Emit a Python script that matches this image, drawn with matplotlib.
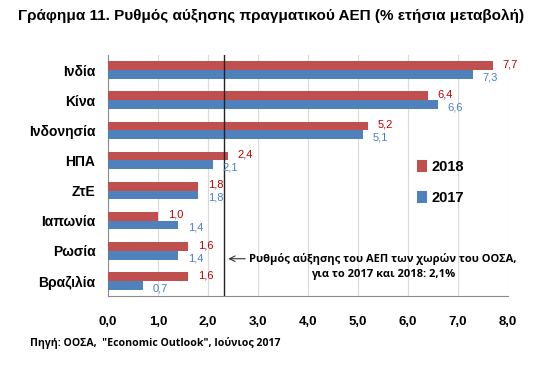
import matplotlib.pyplot as plt
import numpy as np

# data
countries = ["Ινδία", "Κίνα", "Ινδονησία", "ΗΠΑ", "ΖτΕ", "Ιαπωνία", "Ρωσία", "Βραζιλία"]
g2018 = [7.7, 6.4, 5.2, 2.4, 1.8, 1.0, 1.6, 1.6]
g2017 = [7.3, 6.6, 5.1, 2.1, 1.8, 1.4, 1.4, 0.7]
oecd_line = 2.33   # where the reference line is drawn
xticks = [0, 1, 2, 3, 4, 5, 6, 7, 8]

red = "#C0504D"
blue = "#4F81BD"
red_txt = "#C00000"
blue_txt = "#4A7EC8"

plt.rcParams['font.family'] = ['Liberation Sans', 'DejaVu Sans']

fig = plt.figure(figsize=(5.41, 3.66), dpi=100)
ax = fig.add_axes([0.1996, 0.191, 0.7394, 0.6587])

y = np.arange(len(countries))
h = 0.29
ax.barh(y - h / 2, g2018, height=h, color=red, label="2018", zorder=3)
ax.barh(y + h / 2, g2017, height=h, color=blue, label="2017", zorder=3)

def fmt(v):
    return f"{v:.1f}".replace(".", ",")

for i in range(len(countries)):
    ax.annotate(fmt(g2018[i]), (g2018[i], y[i] - h / 2), xytext=(7, 1), textcoords="offset points",
                ha="left", va="center", color=red_txt, fontsize=8, zorder=5)
    ax.annotate(fmt(g2017[i]), (g2017[i], y[i] + h / 2), xytext=(7, -2), textcoords="offset points",
                ha="left", va="center", color=blue_txt, fontsize=8, zorder=5)

ax.axvline(oecd_line, color="#222222", lw=1, zorder=4)

ax.set_xlim(0, 8)
ax.set_ylim(len(countries) - 0.5, -0.5)
ax.set_xticks(xticks)
ax.set_xticklabels([fmt(v) for v in xticks], fontsize=9.5, fontweight="bold")
ax.set_yticks(y)
ax.set_yticklabels(countries, fontsize=10, fontweight="bold")
ax.tick_params(length=0, pad=9)
ax.tick_params(axis="x", pad=14)
ax.grid(axis="x", color="#D9D9D9", lw=0.8, zorder=0)
for s in ["top", "right"]:
    ax.spines[s].set_visible(False)
for s in ["left", "bottom"]:
    ax.spines[s].set_color("#8C8C8C")

leg = ax.legend(loc="upper left", bbox_to_anchor=(0.74, 0.62), frameon=False,
                prop={"weight": "bold", "size": 10.5}, handlelength=0.7, handleheight=0.9,
                handletextpad=0.3, labelspacing=1.2)

ax.annotate("", xy=(oecd_line + 0.02, 6.26), xytext=(2.8, 6.26),
            arrowprops=dict(arrowstyle="->", color="#333333", lw=0.8), zorder=6)
ax.text(5.5, 6.52, "Ρυθμός αύξησης του ΑΕΠ των χωρών του ΟΟΣΑ,\nγια το 2017 και 2018: 2,1%",
        ha="center", va="center", fontsize=8, fontweight="bold", linespacing=1.45,
        family=["Open Sans", "DejaVu Sans"], zorder=6)

fig.text(0.033, 0.957, "Γράφημα 11. Ρυθμός αύξησης πραγματικού ΑΕΠ (% ετήσια μεταβολή)",
         ha="left", va="center", fontsize=11, fontweight="bold")
fig.text(0.055, 0.063, 'Πηγή: ΟΟΣΑ,  "Economic Outlook", Ιούνιος 2017',
         ha="left", va="center", fontsize=7.6, fontweight="bold", family=["Open Sans", "DejaVu Sans"])

fig.savefig("out.png", dpi=100)
